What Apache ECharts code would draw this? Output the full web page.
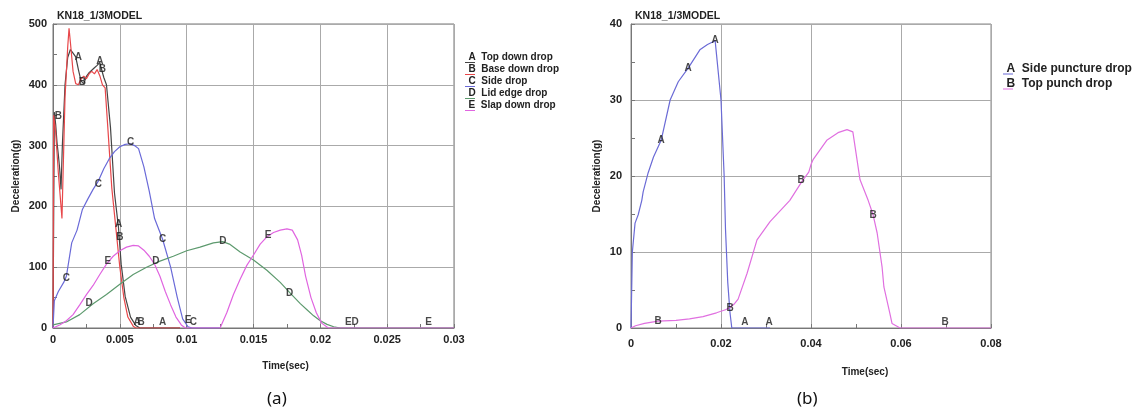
<!DOCTYPE html>
<html><head><meta charset="utf-8">
<script src="https://cdn.jsdelivr.net/npm/echarts@6/dist/echarts.min.js"></script>
<style>html,body{margin:0;padding:0;background:#fff}#c{width:1145px;height:414px}</style>
</head><body><div id="c"></div>
<script>
// ---------- data: chart (a) ----------
const namesA = ['Top down drop','Base down drop','Side drop','Lid edge drop','Slap down drop'];
const lettersA = ['A','B','C','D','E'];
const xTicksA = [0,0.005,0.01,0.015,0.02,0.025,0.03];
const yTicksA = [0,100,200,300,400,500];
const topDown = [[0,0],[0.0001,355],[0.0002,335],[0.0003,305],[0.0004,285],[0.0005,262],[0.0006,228],[0.0007,300],[0.0009,400],[0.0011,445],[0.0013,458],[0.0015,452],[0.0017,446],[0.0019,425],[0.0021,406],[0.0023,402],[0.0025,414],[0.0027,420],[0.0029,424],[0.0031,428],[0.0033,432],[0.0035,437],[0.0036,428],[0.0038,412],[0.0040,400],[0.0043,330],[0.0046,222],[0.0049,165],[0.0051,105],[0.0054,52],[0.0058,18],[0.0062,4],[0.0065,0],[0.0095,0]];
const baseDown = [[0,0],[0.00005,350],[0.0002,322],[0.0004,255],[0.0006,200],[0.00067,180],[0.00075,250],[0.0009,380],[0.0011,462],[0.0012,493],[0.0013,470],[0.0015,422],[0.0017,402],[0.0019,400],[0.0021,410],[0.0023,414],[0.0025,410],[0.0027,418],[0.0029,422],[0.0031,418],[0.0033,425],[0.0035,415],[0.0037,400],[0.0039,395],[0.0041,330],[0.0044,230],[0.0047,165],[0.0050,100],[0.0053,50],[0.0056,18],[0.0060,3],[0.0062,0],[0.0095,0]];
const sideDrop = [[0,0],[0.0001,45],[0.0004,60],[0.0008,75],[0.0010,85],[0.0014,140],[0.0018,161],[0.0022,195],[0.0026,212],[0.0030,228],[0.0034,242],[0.0038,262],[0.0042,278],[0.0046,290],[0.0050,298],[0.0054,302],[0.0058,303],[0.0061,300],[0.0064,295],[0.0068,265],[0.0072,225],[0.0076,180],[0.0082,146],[0.0088,100],[0.0093,50],[0.0097,15],[0.0101,2],[0.0104,0],[0.0125,0]];
const lidEdge = [[0,5],[0.001,10],[0.002,22],[0.003,40],[0.004,55],[0.005,72],[0.006,88],[0.007,100],[0.008,110],[0.009,118],[0.010,127],[0.011,133],[0.012,140],[0.0127,142],[0.0132,138],[0.014,125],[0.015,112],[0.016,95],[0.017,75],[0.0178,56],[0.0185,40],[0.019,30],[0.0195,20],[0.020,12],[0.0205,6],[0.021,2],[0.0215,0],[0.03,0]];
const slapDown = [[0,0],[0.0005,5],[0.001,12],[0.0015,22],[0.002,38],[0.0025,55],[0.003,70],[0.0035,88],[0.004,105],[0.0045,118],[0.005,127],[0.0055,133],[0.006,136],[0.0064,135],[0.0068,128],[0.0072,118],[0.0076,105],[0.008,85],[0.0084,60],[0.0088,38],[0.0092,18],[0.0096,5],[0.0099,0],[0.0125,0],[0.013,25],[0.0135,55],[0.014,80],[0.0145,103],[0.015,120],[0.0155,138],[0.016,150],[0.0165,157],[0.017,161],[0.0175,163],[0.0179,161],[0.0183,145],[0.0186,120],[0.0189,85],[0.0193,50],[0.0197,25],[0.0201,8],[0.0206,0],[0.03,0]];
const markA = [[0.0019,446],[0.0035,438],[0.0049,170],[0.0063,10],[0.0082,10]];
const markB = [[0.0004,348],[0.0022,405],[0.0037,425],[0.0050,150],[0.0066,10]];
const markC = [[0.0010,82],[0.0034,237],[0.0058,306],[0.0082,146],[0.0105,10]];
const markD = [[0.0027,40],[0.0077,110],[0.0127,143],[0.0177,57],[0.0226,10]];
const markE = [[0.0041,110],[0.0101,12],[0.0161,153],[0.0221,10],[0.0281,10]];
// ---------- data: chart (b) ----------
const namesB = ['Side puncture drop','Top punch drop'];
const lettersB = ['A','B'];
const xTicksB = [0,0.02,0.04,0.06,0.08];
const yTicksB = [0,10,20,30,40];
const sidePuncture = [[0,0],[0.0003,10],[0.0009,13.8],[0.0016,14.9],[0.0024,16.8],[0.0027,17.9],[0.0038,20.4],[0.0050,22.5],[0.0067,24.7],[0.0087,30],[0.0105,32.4],[0.0127,34.2],[0.0153,36.6],[0.017,37.3],[0.0187,37.8],[0.019,36],[0.0195,33],[0.020,30],[0.0207,20],[0.021,13],[0.0215,6],[0.022,2],[0.0224,0],[0.0309,0]];
const topPunch = [[0,0],[0.001,0.3],[0.003,0.6],[0.006,0.9],[0.010,1.0],[0.013,1.2],[0.016,1.5],[0.019,2.0],[0.021,2.4],[0.022,2.7],[0.023,3.2],[0.0238,3.8],[0.0258,7.2],[0.028,11.6],[0.0309,14],[0.0353,16.8],[0.038,19.3],[0.0395,20.5],[0.040,21.5],[0.0405,22.2],[0.0435,24.7],[0.046,25.7],[0.048,26.1],[0.0493,25.8],[0.0509,19.5],[0.0527,16.8],[0.0538,14.9],[0.0547,12.5],[0.0558,8],[0.0562,5.4],[0.0575,2],[0.058,0.6],[0.0598,0],[0.08,0]];
const markPA = [[0.0067,24.7],[0.0127,34.2],[0.0187,37.9],[0.0253,0.8],[0.0307,0.8]];
const markPB = [[0.006,0.9],[0.022,2.6],[0.0378,19.4],[0.0538,14.9],[0.0698,0.8]];

const colorsA = ['#454545','#e8474a','#6a6ad8','#5d9a6e','#e065e0'];
const colorsB = ['#6b6bd6','#e070e0'];
const FONT = 'Liberation Sans, Arial, sans-serif';

const chart = echarts.init(document.getElementById('c'), null, {renderer:'canvas'});
const seriesDataA = [topDown, baseDown, sideDrop, lidEdge, slapDown];
const marksA = [markA, markB, markC, markD, markE];
const seriesDataB = [sidePuncture, topPunch];
const marksB = [markPA, markPB];

function lineSeries(name, data, color, gi) {
  return {name, type:'line', data, xAxisIndex:gi, yAxisIndex:gi, showSymbol:false, symbol:'none',
    lineStyle:{color, width:1.2}, itemStyle:{color}, animation:false, z:2};
}
function labelSeries(letter, data, gi, fs) {
  return {type:'scatter', data, xAxisIndex:gi, yAxisIndex:gi, symbol:'circle', symbolSize:1,
    itemStyle:{color:'rgba(0,0,0,0)'}, silent:true, animation:false, z:5,
    label:{show:true, position:'inside', formatter:letter, color:'#1a1a1a', fontSize:fs, fontWeight:'bold', fontFamily:FONT}};
}
const series = [];
namesA.forEach((n,i)=>{ series.push(lineSeries(n, seriesDataA[i], colorsA[i], 0)); });
namesB.forEach((n,i)=>{ series.push(lineSeries(n, seriesDataB[i], colorsB[i], 1)); });
lettersA.forEach((l,i)=>{ series.push(labelSeries(l, marksA[i], 0, 10)); });
lettersB.forEach((l,i)=>{ series.push(labelSeries(l, marksB[i], 1, 10)); });

function xAxis(gi, ticks, interval, nameGap, pad, lblMargin) {
  return {type:'value', gridIndex:gi, min:ticks[0], max:ticks[ticks.length-1], interval,
    name:'Time(sec)', nameLocation:'middle', nameGap,
    nameTextStyle:{fontFamily:FONT, fontWeight:'bold', fontSize:10, color:'#222', padding:[0,0,0,pad]},
    axisLine:{show:true, onZero:false, lineStyle:{color:'#777', width:1}},
    axisTick:{show:true, inside:true, length:4, lineStyle:{color:'#777'}},
    minorTick:{show:true, splitNumber:2, length:4, lineStyle:{color:'#777'}},
    axisLabel:{fontFamily:FONT, fontWeight:'bold', fontSize:11, color:'#222', margin:lblMargin, showMinLabel:true, showMaxLabel:true},
    splitLine:{show:true, lineStyle:{color:'#aaa', width:1}}};
}
function yAxis(gi, ticks, interval, nameGap, lblMargin) {
  return {type:'value', gridIndex:gi, min:ticks[0], max:ticks[ticks.length-1], interval,
    name:'Deceleration(g)', nameLocation:'middle', nameGap, nameRotate:90,
    nameTextStyle:{fontFamily:FONT, fontWeight:'bold', fontSize:10, color:'#222'},
    axisLine:{show:true, lineStyle:{color:'#777', width:1}},
    axisTick:{show:true, inside:true, length:4, lineStyle:{color:'#777'}},
    minorTick:{show:true, splitNumber:2, length:4, lineStyle:{color:'#777'}},
    axisLabel:{fontFamily:FONT, fontWeight:'bold', fontSize:11, color:'#222', margin:lblMargin},
    splitLine:{show:true, lineStyle:{color:'#aaa', width:1}}};
}
const underline = 'path://M0,0h0.01v0.01h-0.01z M0,10h10v1h-10z';
function legend(names, letters, left, top, fs, gap) {
  return {orient:'vertical', left, top, data:names.map(n=>({name:n, icon:underline})),
    itemWidth:15, itemHeight:11, itemGap:gap, selectedMode:false,
    formatter: n => letters[names.indexOf(n)] + '  ' + n,
    textStyle:{fontFamily:FONT, fontWeight:'bold', fontSize:fs, color:'#222', padding:[0,0,0,-14]}};
}

chart.setOption({
  backgroundColor:'#fff',
  animation:false,
  title:[
    {text:'KN18_1/3MODEL', left:52, top:6, textStyle:{fontFamily:FONT, fontWeight:'bold', fontSize:10.5, color:'#222'}},
    {text:'KN18_1/3MODEL', left:630, top:6, textStyle:{fontFamily:FONT, fontWeight:'bold', fontSize:10.5, color:'#222'}},
    {text:'(a)', left:262, top:386, textStyle:{fontFamily:'Noto Sans, sans-serif', fontWeight:'normal', fontSize:17, color:'#111'}},
    {text:'(b)', left:792, top:386, textStyle:{fontFamily:'Noto Sans, sans-serif', fontWeight:'normal', fontSize:17, color:'#111'}}
  ],
  grid:[
    {left:53, top:24, width:401, height:304, show:true, borderColor:'#777', borderWidth:1, backgroundColor:'#fff'},
    {left:631, top:24, width:360, height:304, show:true, borderColor:'#888', borderWidth:1, backgroundColor:'#fff'}
  ],
  xAxis:[xAxis(0, xTicksA, 0.005, 33, 64, 6), xAxis(1, xTicksB, 0.02, 39, 108, 10)],
  yAxis:[yAxis(0, yTicksA, 100, 32, 6), yAxis(1, yTicksB, 10, 29, 9)],
  legend:[legend(namesA, lettersA, 460, 47, 10, 1), legend(namesB, lettersB, 998, 58, 12, 3)],
  series
});
</script></body></html>
